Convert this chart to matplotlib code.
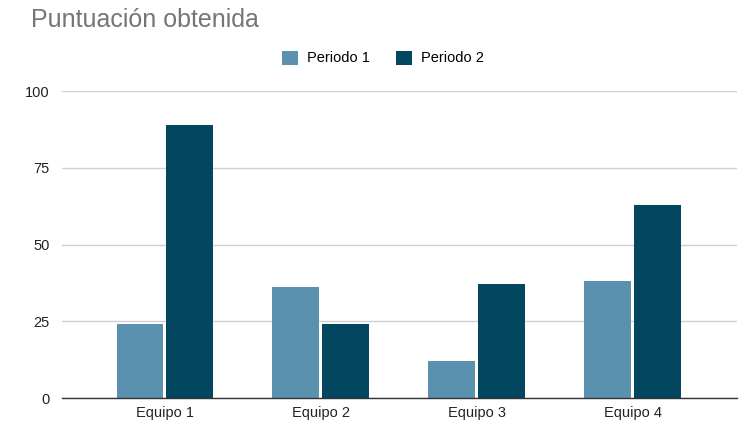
import matplotlib.pyplot as plt
import numpy as np

plt.rcParams["font.family"] = ["Liberation Sans", "DejaVu Sans"]

equipos  = ["Equipo 1", "Equipo 2", "Equipo 3", "Equipo 4"]
periodo1 = [24, 36, 12, 38]
periodo2 = [89, 24, 37, 63]
yticks   = [0, 25, 50, 75, 100]

c1 = "#5a91ae"
c2 = "#02465f"

fig = plt.figure(figsize=(7.39, 4.26), dpi=100)
ax = fig.add_axes([62/739, 28/426, 675/739, 307/426])

x = np.arange(len(equipos))
w = 0.30
ax.bar(x - w/2 - 0.01, periodo1, w, color=c1, label="Periodo 1", zorder=3)
ax.bar(x + w/2 + 0.01, periodo2, w, color=c2, label="Periodo 2", zorder=3)

ax.set_xlim(-0.66, 3.67)
ax.set_ylim(0, 100)
ax.set_yticks(yticks)
ax.set_yticklabels([str(t) for t in yticks], fontsize=10.5, color="#222222")
ax.set_xticks(x)
ax.set_xticklabels(equipos, fontsize=10.5, color="#222222")
ax.tick_params(length=0, pad=9)
ax.tick_params(axis="x", pad=6)
ax.grid(axis="y", color="#d0d0d0", lw=1, zorder=0)
for s in ["top", "right", "left"]:
    ax.spines[s].set_visible(False)
ax.spines["bottom"].set_color("#333333")
ax.spines["bottom"].set_linewidth(1)
ax.spines["bottom"].set_zorder(4)

fig.text(31/739, 1 - 20/426, "Puntuación obtenida", fontsize=18, color="#757575",
         va="center", ha="left")
fig.legend(loc="center", bbox_to_anchor=(383/739, 1 - 58/426), ncol=2, frameon=False,
           fontsize=10.5, handlelength=1.1, handleheight=1.1, columnspacing=1.8,
           handletextpad=0.6)

fig.savefig("out.png", dpi=100)
